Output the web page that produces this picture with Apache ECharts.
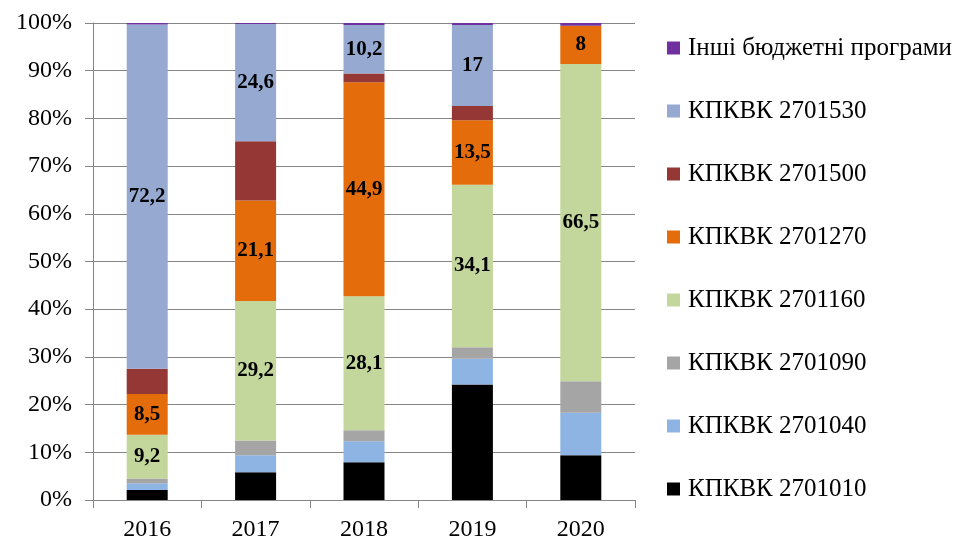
<!DOCTYPE html>
<html><head><meta charset="utf-8">
<script src="https://cdn.jsdelivr.net/npm/echarts@6/dist/echarts.min.js"></script>
<style>html,body{margin:0;padding:0;background:#fff}#c{width:959px;height:542px}</style>
</head><body><div id="c"></div>
<script>
const years = ['2016','2017','2018','2019','2020'];
const names = ['КПКВК 2701010','КПКВК 2701040','КПКВК 2701090','КПКВК 2701160','КПКВК 2701270','КПКВК 2701500','КПКВК 2701530','Інші бюджетні програми'];
const s2701010 = [2.1, 5.8, 7.9, 24.2, 9.4];
const s2701040 = [1.4, 3.6, 4.4, 5.4, 8.9];
const s2701090 = [1.0, 3.1, 2.3, 2.4, 6.6];
const s2701160 = [9.2, 29.2, 28.1, 34.1, 66.5];
const s2701270 = [8.5, 21.1, 44.9, 13.5, 8.0];
const s2701500 = [5.3, 12.4, 1.8, 3.0, 0];
const s2701530 = [72.2, 24.6, 10.2, 17.0, 0];
const sOther = [0.3, 0.2, 0.4, 0.4, 0.6];
const yTicks = [0,10,20,30,40,50,60,70,80,90,100];

const values = [s2701010,s2701040,s2701090,s2701160,s2701270,s2701500,s2701530,sOther];
const colors = ['#000000','#8EB4E3','#A5A5A5','#C3D69B','#E46C0A','#953735','#95A9D1','#7030A0'];
const labelled = [false,false,false,true,true,false,true,false];
const font = 'Liberation Serif';

const series = names.map((n,i)=>({
  name:n, type:'bar', stack:'total', barWidth:41,
  data: values[i],
  itemStyle:{color:colors[i]},
  label:{show:labelled[i], position:'inside', color:'#000', fontFamily:font, fontWeight:'bold', fontSize:21,
    formatter:p=> p.value>0 ? String(p.value).replace('.',',') : ''}
}));

const chart = echarts.init(document.getElementById('c'));
chart.setOption({
  animation:false,
  backgroundColor:'#fff',
  grid:{left:93,right:324,top:23,bottom:42,containLabel:false,outerBoundsMode:'none'},
  legend:{
    orient:'vertical', left:667, top:35, padding:0, itemWidth:13, itemHeight:13, itemGap:37,
    icon:'rect',
    data: names.slice().reverse(),
    textStyle:{fontFamily:font, fontSize:25, color:'#000', lineHeight:24, padding:[2,0,0,3]}
  },
  xAxis:{type:'category', data:years,
    axisLine:{lineStyle:{color:'#868686',width:1}},
    axisTick:{show:true,length:8,lineStyle:{color:'#868686'}},
    axisLabel:{fontFamily:font,fontSize:24,color:'#000',margin:21,lineHeight:18}},
  yAxis:{type:'value', min:yTicks[0], max:yTicks[yTicks.length-1], interval:10,
    axisLine:{show:true,lineStyle:{color:'#868686',width:1}},
    axisTick:{show:true,length:8,lineStyle:{color:'#868686'}},
    splitLine:{lineStyle:{color:'#868686',width:1}},
    axisLabel:{fontFamily:font,fontSize:24,color:'#000',margin:21,formatter:'{value}%'}},
  series
});
</script></body></html>
